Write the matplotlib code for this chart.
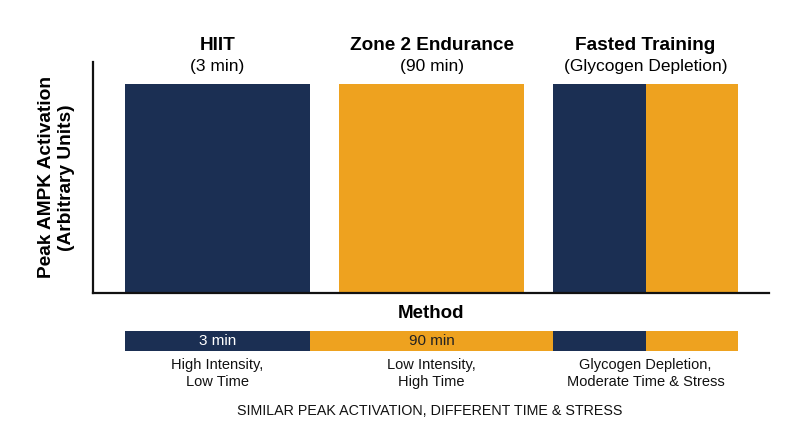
import numpy as np
import matplotlib
matplotlib.use('Agg')
from matplotlib import pyplot as plt

# Data
methods = ['HIIT', 'Zone 2 Endurance', 'Fasted Training']
subtitles = ['(3 min)', '(90 min)', '(Glycogen Depletion)']
peak_ampk = [1.0, 1.0, 1.0]
time_labels = ['3 min', '90 min', '']
descriptions = ['High Intensity,\nLow Time',
                'Low Intensity,\nHigh Time',
                'Glycogen Depletion,\nModerate Time & Stress']
caption = 'SIMILAR PEAK ACTIVATION, DIFFERENT TIME & STRESS'

NAVY = '#1b2f53'
ORANGE = '#eea21f'
W, H = 800, 447

plt.rcParams['font.family'] = ['Liberation Sans', 'DejaVu Sans']

fig = plt.figure(figsize=(W / 100, H / 100), dpi=100)
ax = fig.add_axes([93 / W, (H - 293) / H, 676 / W, 231 / H])

x = np.arange(len(methods))
width = 0.865

# bars: HIIT navy, Zone 2 orange, Fasted split half/half
ax.bar(x[0], peak_ampk[0], width, color=NAVY)
ax.bar(x[1], peak_ampk[1], width, color=ORANGE)
ax.bar(x[2] - width / 4, peak_ampk[2], width / 2, color=NAVY)
ax.bar(x[2] + width / 4, peak_ampk[2], width / 2, color=ORANGE)

ax.set_xlim(-0.582, 2.577)
ax.set_ylim(0, 1.105)
ax.set_xticks([])
ax.set_yticks([])
for s in ['top', 'right']:
    ax.spines[s].set_visible(False)
for s in ['left', 'bottom']:
    ax.spines[s].set_linewidth(1.6)
    ax.spines[s].set_color('#111111')

for xi, m, sub, v in zip(x, methods, subtitles, peak_ampk):
    ax.annotate(m, (xi, v), xytext=(0, 28), textcoords='offset points',
                ha='center', va='center', fontsize=13.7, fontweight='bold')
    ax.annotate(sub, (xi, v), xytext=(0, 12.5), textcoords='offset points',
                ha='center', va='center', fontsize=12.5)

ax.set_ylabel('Peak AMPK Activation\n(Arbitrary Units)', fontsize=13.8,
              fontweight='bold', labelpad=13, linespacing=1.2)
ax.set_xlabel('Method', fontsize=13.5, fontweight='bold', labelpad=9)

# timeline strip
tax = fig.add_axes([93 / W, (H - 351) / H, 676 / W, 20 / H])
tax.set_xlim(ax.get_xlim())
tax.set_ylim(0, 1)
tax.axis('off')
edges = [x[0] - width / 2, x[0] + width / 2, x[2] - width / 2, x[2], x[2] + width / 2]
seg_colors = [NAVY, ORANGE, NAVY, ORANGE]
for (a, b), c in zip(zip(edges[:-1], edges[1:]), seg_colors):
    tax.barh(0.5, b - a, left=a, height=1, color=c)
tax.text(x[0], 0.5, time_labels[0], ha='center', va='center', color='white', fontsize=11)
tax.text(x[1], 0.5, time_labels[1], ha='center', va='center', color='#222222', fontsize=11)

for xi, d in zip(x, descriptions):
    tax.text(xi, -0.35, d, ha='center', va='top', fontsize=10.5, linespacing=1.3,
             color='#111111')

fig.text(430 / W, 1 - 411 / H, caption, ha='center', va='center', fontsize=10.3,
         color='#111111')

fig.savefig('out.png', dpi=100, facecolor='white')
